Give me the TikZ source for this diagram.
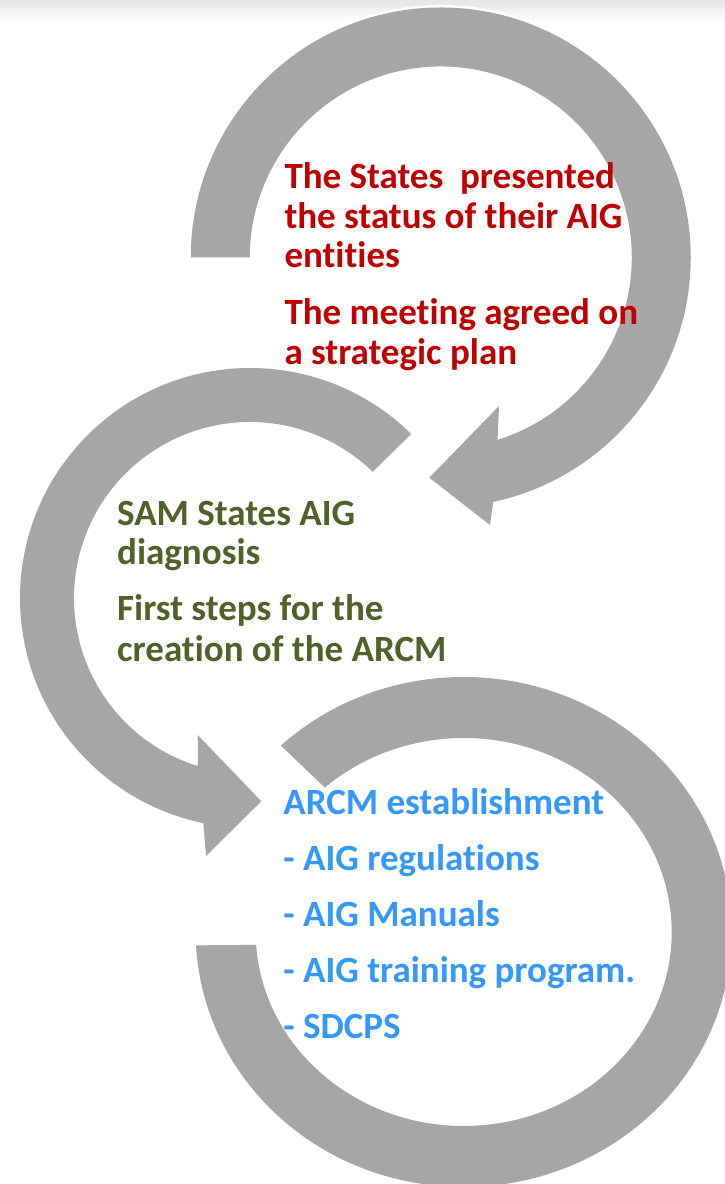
\documentclass[tikz,border=0pt]{standalone}
\usepackage{fontspec}
\usetikzlibrary{calc}
\newfontfamily\carl{Carlito}[Ligatures={NoCommon,NoRare,NoContextual}]
\definecolor{arcgray}{HTML}{A6A6A6}
\definecolor{txtred}{HTML}{C00000}
\definecolor{txtgreen}{HTML}{4F6228}
\definecolor{txtblue}{HTML}{3399FF}
\tikzset{
  ringarrow/.style={fill=arcgray},
  txt/.style={anchor=base west, inner sep=0pt, font=\carl\bfseries\fontsize{37}{40}\selectfont},
  redtxt/.style={txt, text=txtred},
  greentxt/.style={txt, text=txtgreen},
  bluetxt/.style={txt, text=txtblue}
}
\begin{document}
\begin{tikzpicture}[x=1pt,y=1pt]
\useasboundingbox (0,0) rectangle (725,1184);
\clip (0,0) rectangle (725,1184);
\fill[white] (0,0) rectangle (725,1184);
\shade[top color=black!10, bottom color=white] (0,1162) rectangle (725,1184);

% ring 1 (top)
\coordinate (C1) at (440.75,926.5);
\fill[ringarrow, preaction={draw=white, line width=5pt}]
  ($(C1)+(180:250)$) arc[start angle=180, end angle=-77.9, radius=250pt]
  -- (490,659) -- (429.3,706.3) -- (499,778)
  -- ($(C1)+(-72.7:191)$) arc[start angle=-72.7, end angle=180, radius=191pt] -- cycle;

% ring 2 (middle)
\coordinate (C2) at (250,586);
\fill[ringarrow]
  ($(C2)+(45.5:230)$) arc[start angle=45.5, end angle=258.3, radius=230pt]
  -- (206,328) -- (261.3,382.7) -- (197.7,449)
  -- ($(C2)+(252.8:176)$) arc[start angle=252.8, end angle=45.8, radius=176pt] -- cycle;

% ring 3 (bottom)
\coordinate (C3) at (463.7,252);
\fill[ringarrow]
  ($(C3)+({268*cos(133)},{255*sin(133)})$) arc[start angle=133, end angle=-177, x radius=268pt, y radius=255pt]
  -- ($(C3)+({208*cos(-176.2)},{194*sin(-176.2)})$) arc[start angle=-176.2, end angle=131.9, x radius=208pt, y radius=194pt] -- cycle;

% red text
\node[redtxt] (r1) at (284.3,995.8) {The States\ \ presented};
\node[redtxt] (r2) at (284.3,955.4) {the status of their AIG};
\node[redtxt] (r3) at (284.3,916) {entities};
\node[redtxt] (r4) at (284.3,859) {The meeting agreed on};
\node[redtxt] (r5) at (284.3,819.7) {a strategic plan};

% green text
\node[greentxt] (g1) at (117,658) {SAM States AIG};
\node[greentxt] (g2) at (117,619) {diagnosis};
\node[greentxt] (g3) at (117,563) {First steps for the};
\node[greentxt] (g4) at (117,522) {creation of the ARCM};

% blue text
\node[bluetxt] (b1) at (283.2,369) {ARCM establishment};
\node[bluetxt] (b2) at (283.2,313.3) {- AIG regulations};
\node[bluetxt] (b3) at (283.2,257.3) {- AIG Manuals};
\node[bluetxt] (b4) at (283.2,201.3) {- AIG training program.};
\node[bluetxt] (b5) at (283.2,145.7) {- SDCPS};
\end{tikzpicture}
\end{document}
